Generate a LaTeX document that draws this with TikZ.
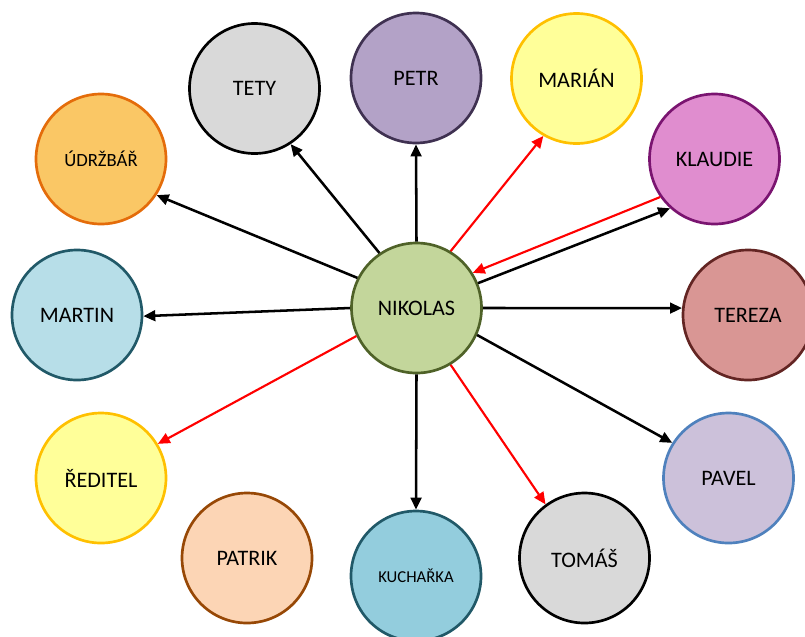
\documentclass[tikz,border=0pt]{standalone}
\usepackage{fontspec}
\setmainfont{Carlito}
\usetikzlibrary{arrows.meta}
\definecolor{nikF}{HTML}{C3D69B}\definecolor{nikD}{HTML}{4F6228}
\definecolor{grayF}{HTML}{D9D9D9}
\definecolor{petrF}{HTML}{B3A2C7}\definecolor{petrD}{HTML}{3F3151}
\definecolor{yelF}{HTML}{FFFF99}\definecolor{yelD}{HTML}{FFC000}
\definecolor{klaF}{HTML}{E08DCF}\definecolor{klaD}{HTML}{7A1470}
\definecolor{udrF}{HTML}{FAC765}\definecolor{udrD}{HTML}{E46C0A}
\definecolor{marF}{HTML}{B7DEE8}\definecolor{marD}{HTML}{215968}
\definecolor{terF}{HTML}{D99694}\definecolor{terD}{HTML}{632523}
\definecolor{patF}{HTML}{FCD5B5}\definecolor{patD}{HTML}{974806}
\definecolor{kucF}{HTML}{93CDDD}
\definecolor{pavF}{HTML}{CCC1DA}\definecolor{pavD}{HTML}{4F81BD}
\definecolor{arrRed}{HTML}{FF0000}
\tikzset{
  person/.style={circle, minimum size=130*0.75pt, inner sep=0pt, line width=2pt, text depth=-2.5pt, font=\fontsize{16.6}{18}\selectfont},
  blk/.style={draw=black, line width=1.9pt, -{Triangle[length=9pt,width=8pt]}},
  rd/.style={draw=arrRed, line width=1.6pt, -{Triangle[length=9pt,width=8pt]}},
}
\begin{document}
\begin{tikzpicture}[x=0.75pt,y=-0.75pt]
\useasboundingbox (0,0) rectangle (805,636);
\node[person, fill=nikF, draw=nikD] (nik) at (416.5,308) {NIKOLAS};
\node[person, fill=grayF, draw=black] (tety) at (254.5,88.5) {TETY};
\node[person, fill=petrF, draw=petrD] (petr) at (416,78) {PETR};
\node[person, fill=yelF, draw=yelD] (marian) at (576.5,78.5) {MARIÁN};
\node[person, fill=klaF, draw=klaD] (klaudie) at (714.5,159) {KLAUDIE};
\node[person, fill=udrF, draw=udrD, font=\fontsize{14}{16}\selectfont] (udr) at (101,159) {ÚDRŽBÁŘ};
\node[person, fill=marF, draw=marD] (martin) at (77,315) {MARTIN};
\node[person, fill=terF, draw=terD] (tereza) at (748,315) {TEREZA};
\node[person, fill=yelF, draw=yelD] (reditel) at (101,478) {ŘEDITEL};
\node[person, fill=patF, draw=patD] (patrik) at (247,558) {PATRIK};
\node[person, fill=kucF, draw=marD, font=\fontsize{12.5}{15}\selectfont] (kuch) at (416,576) {KUCHAŘKA};
\node[person, fill=grayF, draw=black] (tomas) at (584.5,558) {TOMÁŠ};
\node[person, fill=pavF, draw=pavD] (pavel) at (728.5,478) {PAVEL};
\draw[blk] (nik.124.5) -- (tety.-57.4);
\draw[blk] (nik.153) -- (udr.-33);
\draw[blk] (nik.180) -- (martin.-1);
\draw[blk] (nik.90) -- (petr.-90);
\draw[rd] (nik.59.1) -- (marian.-120.8);
\draw[rd] (klaudie.-145) -- (nik.32.2);
\draw[blk] (nik.22.7) -- (klaudie.-132.2);
\draw[blk] (nik.0) -- (tereza.174.7);
\draw[rd] (nik.-155.6) -- (reditel.31.7);
\draw[blk] (nik.-90) -- (kuch.90);
\draw[rd] (nik.-59.1) -- (tomas.126);
\draw[blk] (nik.-24.8) -- (pavel.148.5);
\end{tikzpicture}
\end{document}
